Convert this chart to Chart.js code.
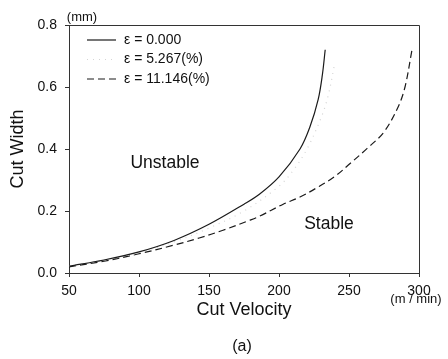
<!DOCTYPE html>
<html>
<head>
<meta charset="utf-8">
<script src="https://cdn.jsdelivr.net/npm/chart.js@4"></script>
<style>
  html, body { margin: 0; padding: 0; background: #fff; }
  #wrap { width: 448px; height: 359px; }
</style>
</head>
<body>
<div id="wrap"><canvas id="chart" width="448" height="359"></canvas></div>
<script>
// données
const velocity0 = [50, 75, 100, 125, 150, 175, 186, 200, 215, 222, 228, 231, 233];
const width0 = [0.022, 0.042, 0.068, 0.105, 0.157, 0.222, 0.254, 0.31, 0.40, 0.47, 0.56, 0.64, 0.72];

const velocity1 = [50, 75, 100, 125, 150, 175, 200, 210, 220, 230, 235, 240];
const width1 = [0.022, 0.041, 0.066, 0.1, 0.145, 0.2, 0.28, 0.33, 0.40, 0.50, 0.57, 0.68];

const velocity2 = [50, 75, 100, 125, 143, 160, 179, 186, 203, 215, 227, 240, 251, 263, 275, 285, 290, 295];
const width2 = [0.02, 0.038, 0.062, 0.09, 0.113, 0.138, 0.17, 0.183, 0.222, 0.245, 0.275, 0.312, 0.354, 0.402, 0.455, 0.535, 0.6, 0.72];

const seriesLabels = ['\u03b5 = 0.000', '\u03b5 = 5.267(%)', '\u03b5 = 11.146(%)'];
const xTicks = [50, 100, 150, 200, 250, 300];
const yTicks = [0.0, 0.2, 0.4, 0.6, 0.8];

const FONT = '"Liberation Sans", Arial, sans-serif';

function toPoints(xs, ys) {
    return xs.map((x, i) => ({ x: x, y: ys[i] }));
}

// cadre, légende et annotations
const decorPlugin = {
    id: 'decor',
    afterDraw(chart) {
        const ctx = chart.ctx;
        const a = chart.chartArea;
        ctx.save();
        ctx.strokeStyle = '#333';
        ctx.lineWidth = 1;
        ctx.beginPath();
        ctx.moveTo(a.left, a.top + 0.5);
        ctx.lineTo(a.right + 0.5, a.top + 0.5);
        ctx.lineTo(a.right + 0.5, a.bottom);
        ctx.stroke();

        ctx.fillStyle = '#111';
        ctx.textBaseline = 'middle';

        // légende
        ctx.font = '14px ' + FONT;
        chart.data.datasets.forEach((ds, i) => {
            const y = 40 + i * 19.5;
            ctx.strokeStyle = ds.borderColor;
            ctx.lineWidth = 1.2;
            ctx.setLineDash(ds.borderDash || []);
            ctx.beginPath();
            ctx.moveTo(87, y);
            ctx.lineTo(116, y);
            ctx.stroke();
            ctx.setLineDash([]);
            ctx.textAlign = 'left';
            ctx.fillText(ds.label, 124, y);
        });

        ctx.textAlign = 'center';
        ctx.font = '17.5px ' + FONT;
        ctx.fillText('Unstable', 165, 163);
        ctx.fillText('Stable', 329, 224);

        ctx.font = '13px ' + FONT;
        ctx.fillText('(mm)', 82, 17);
        ctx.fillText('(m / min)', 416, 299);

        ctx.font = '16px ' + FONT;
        ctx.fillText('(a)', 242, 347);
        ctx.restore();
    }
};

const ctx = document.getElementById('chart').getContext('2d');
new Chart(ctx, {
    type: 'line',
    data: {
        datasets: [{
            label: seriesLabels[0],
            data: toPoints(velocity0, width0),
            borderColor: '#1a1a1a',
            borderWidth: 1.2
        }, {
            label: seriesLabels[1],
            data: toPoints(velocity1, width1),
            borderColor: '#d4d4d4',
            borderWidth: 1.2,
            borderDash: [1, 5]
        }, {
            label: seriesLabels[2],
            data: toPoints(velocity2, width2),
            borderColor: '#1a1a1a',
            borderWidth: 1.2,
            borderDash: [7, 4]
        }]
    },
    options: {
        responsive: false,
        animation: false,
        layout: { padding: { left: 0, top: 25, right: 29, bottom: 30 } },
        elements: {
            point: { radius: 0 },
            line: { tension: 0.35, fill: false }
        },
        plugins: {
            legend: { display: false },
            tooltip: { enabled: false }
        },
        scales: {
            x: {
                type: 'linear',
                min: 50,
                max: 300,
                afterBuildTicks: (axis) => { axis.ticks = xTicks.map(v => ({ value: v })); },
                afterFit: (axis) => { axis.height = 56; },
                grid: { drawOnChartArea: false, tickLength: 4, color: '#333' },
                border: { color: '#333' },
                ticks: { color: '#111', font: { family: FONT, size: 14 }, padding: 6 },
                title: {
                    display: true,
                    text: 'Cut Velocity',
                    color: '#111',
                    font: { family: FONT, size: 18 },
                    padding: { top: 0, bottom: 8 }
                }
            },
            y: {
                min: 0,
                max: 0.8,
                afterBuildTicks: (axis) => { axis.ticks = yTicks.map(v => ({ value: v })); },
                afterFit: (axis) => { axis.width = 69; },
                grid: { drawOnChartArea: false, tickLength: 4, color: '#333' },
                border: { color: '#333' },
                ticks: {
                    color: '#111',
                    font: { family: FONT, size: 14 },
                    padding: 8,
                    callback: (v) => Number(v).toFixed(1)
                },
                title: {
                    display: true,
                    text: 'Cut Width',
                    color: '#111',
                    font: { family: FONT, size: 18 },
                    padding: { top: 7, bottom: 0 }
                }
            }
        }
    },
    plugins: [decorPlugin]
});
</script>
</body>
</html>
